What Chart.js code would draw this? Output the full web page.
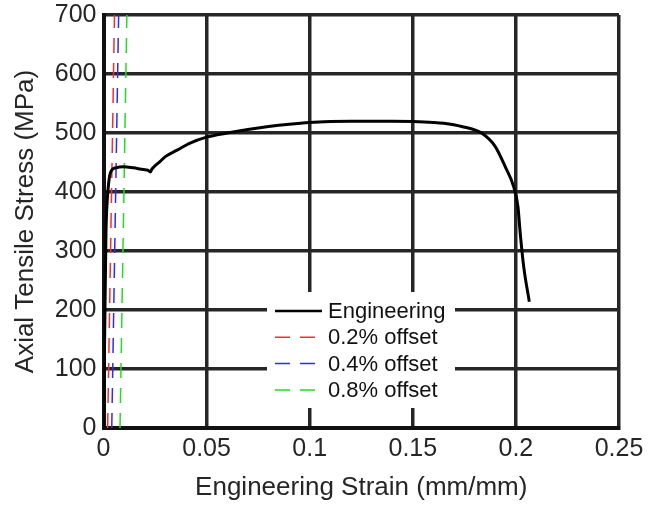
<!DOCTYPE html>
<html><head><meta charset="utf-8">
<script src="https://cdn.jsdelivr.net/npm/chart.js@4.4.1/dist/chart.umd.min.js"></script>
<style>html,body{margin:0;padding:0;background:#fff;} #wrap{width:658px;height:505px;position:relative;}</style>
</head><body><div id="wrap"><canvas id="c" width="658" height="505"></canvas></div>
<script>
// Engineering curve (strain in mm/mm, stress in MPa)
const strain = [0, 0.0005, 0.0012, 0.0018, 0.0023, 0.003, 0.004, 0.006, 0.0097, 0.0145, 0.0194, 0.0215, 0.0227, 0.0235, 0.0275, 0.03, 0.0357, 0.042, 0.05, 0.06, 0.07, 0.08, 0.09, 0.1, 0.11, 0.12, 0.13, 0.14, 0.15, 0.16, 0.165, 0.1737, 0.1835, 0.19, 0.1948, 0.1989, 0.201, 0.2021, 0.2038, 0.2065];
const stress = [0, 137, 330, 385, 408, 428, 437, 441, 443, 441, 438, 437, 434, 439, 452, 460, 471, 483, 493, 500, 506, 511, 515, 518, 519.5, 520, 520, 520, 519.5, 518, 516.5, 511, 499.5, 477, 443, 409, 375, 330, 273, 214];
// Offset lines
const offsetStrain02 = [0.002, 0.00533];
const offsetStrain04 = [0.004, 0.00733];
const offsetStrain08 = [0.008, 0.01133];
const offsetStress = [0, 700];
const seriesLabels = ['Engineering', '0.2% offset', '0.4% offset', '0.8% offset'];
const xTickLabels = ['0', '0.05', '0.1', '0.15', '0.2', '0.25'];
const yTickLabels = ['0', '100', '200', '300', '400', '500', '600', '700'];
const xTitle = 'Engineering Strain (mm/mm)';
const yTitle = 'Axial Tensile Stress (MPa)';

const toPts = (xs, ys) => xs.map((x, i) => ({x: x, y: ys[i]}));
const FONT = '"Liberation Sans", Arial, sans-serif';

const legendPlugin = {
  id: 'boxLegend',
  afterDatasetsDraw(chart) {
    const ctx = chart.ctx;
    ctx.save();
    ctx.fillStyle = '#fff';
    ctx.fillRect(267, 292, 188, 116);
    chart.data.datasets.forEach((ds, i) => {
      const y = 311 + i * 26.3;
      ctx.strokeStyle = ds.borderColor;
      ctx.lineWidth = i === 0 ? 2.5 : 1.5;
      ctx.setLineDash(ds.borderDash || []);
      ctx.beginPath(); ctx.moveTo(275, y); ctx.lineTo(i === 0 ? 322 : 317, y); ctx.stroke();
      ctx.setLineDash([]);
      ctx.fillStyle = '#111';
      ctx.font = '22px ' + FONT;
      ctx.textBaseline = 'middle';
      ctx.textAlign = 'left';
      ctx.fillText(ds.label, 328, y + 1);
    });
    ctx.restore();
  }
};

new Chart(document.getElementById('c'), {
  type: 'line',
  data: {
    datasets: [
      {label: seriesLabels[0], data: toPts(strain, stress), borderColor: '#000', borderWidth: 3, pointRadius: 0, cubicInterpolationMode: 'monotone', fill: false},
      {label: seriesLabels[1], data: toPts(offsetStrain02, offsetStress), borderColor: '#ff2a2a', borderWidth: 1.5, borderDash: [15, 10], pointRadius: 0, fill: false},
      {label: seriesLabels[2], data: toPts(offsetStrain04, offsetStress), borderColor: '#2a2aff', borderWidth: 1.5, borderDash: [15, 10], pointRadius: 0, fill: false},
      {label: seriesLabels[3], data: toPts(offsetStrain08, offsetStress), borderColor: '#22dd22', borderWidth: 1.5, borderDash: [15, 10], pointRadius: 0, fill: false}
    ]
  },
  options: {
    responsive: false,
    animation: false,
    devicePixelRatio: 1,
    layout: {padding: {top: 15, right: 39, left: 0, bottom: 0}},
    plugins: {legend: {display: false}, tooltip: {enabled: false}},
    scales: {
      x: {
        type: 'linear', min: 0, max: 0.25,
        afterFit: s => { s.height = 77; s.paddingLeft = 0; s.paddingRight = 0; },
        ticks: {stepSize: 0.05, color: '#262626', font: {family: FONT, size: 25}, padding: 6,
          callback: (v, i) => xTickLabels[i], maxRotation: 0},
        grid: {color: '#262626', lineWidth: 3.5, drawTicks: false},
        border: {color: '#111', width: 4},
        title: {display: true, text: xTitle, color: '#262626', font: {family: FONT, size: 26}, padding: {top: 0, bottom: 2}}
      },
      y: {
        type: 'linear', min: 0, max: 700,
        afterFit: s => { s.width = 103.5; s.paddingTop = 0; s.paddingBottom = 0; },
        ticks: {stepSize: 100, color: '#262626', font: {family: FONT, size: 25}, padding: 7,
          callback: (v, i) => yTickLabels[i]},
        grid: {color: '#262626', lineWidth: 3.5, drawTicks: false},
        border: {color: '#111', width: 4},
        title: {display: true, text: yTitle, color: '#262626', font: {family: FONT, size: 26}, padding: {top: 10, bottom: 0}}
      }
    }
  },
  plugins: [legendPlugin]
});
</script></body></html>
